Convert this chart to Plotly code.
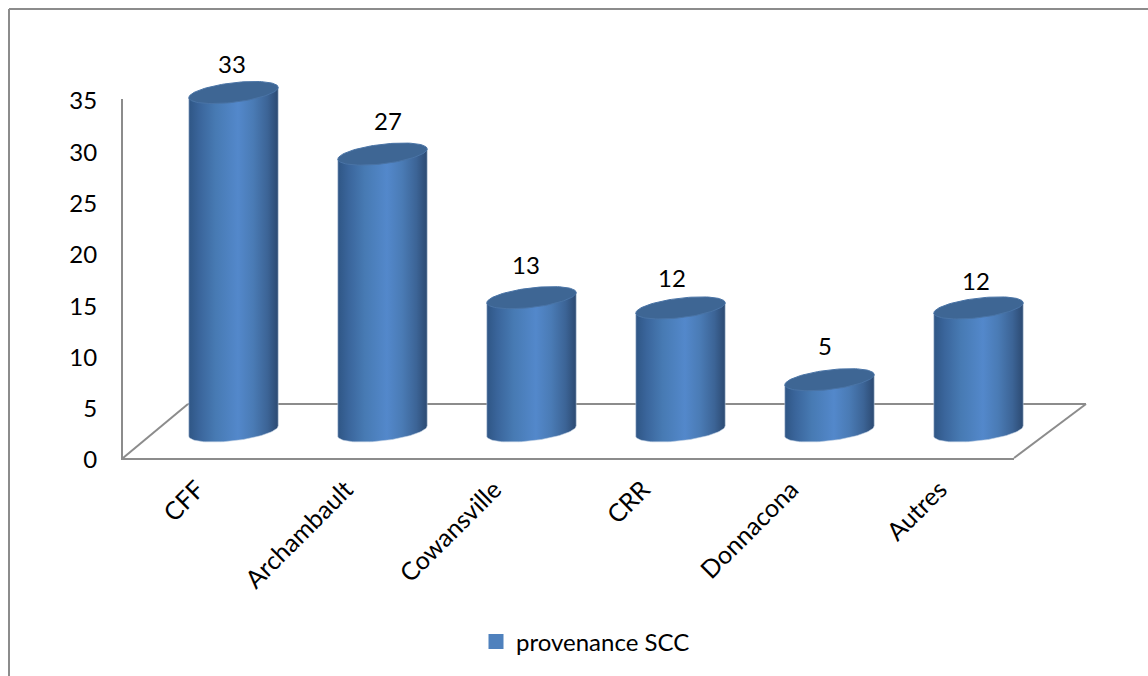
import numpy as np
import plotly.graph_objects as go

categories = ["CFF", "Archambault", "Cowansville", "CRR", "Donnacona", "Autres"]
values = [33, 27, 13, 12, 5, 12]
y_ticks = [0, 5, 10, 15, 20, 25, 30, 35]
series_name = "provenance SCC"

W, H = 1148, 676
FONT = "Lato"
TXT = "#000000"
GRID = "#8c8c8c"
LEG = "#4F81BD"
CAP = "#3E6694"
GRAD = [[0, "#2F5685"], [0.12, "#3A659B"], [0.3, "#477AB3"], [0.55, "#5388CB"],
        [0.72, "#4A7BB5"], [0.88, "#3C6496"], [1, "#2C4A72"]]

px = lambda v: v / W
py = lambda v: 1 - v / H

X0, X1, Y0, Y1 = 123, 1014, 458, 99
BAR_X0, BAR_X1 = 159, 1053
DY = 27
UNIT = (Y0 - Y1) / 35
BELOW = 2
A, B, S = 0.30, 0.955, 0.5
t_low = np.linspace(0, np.pi, 50)
t_all = np.linspace(0, 2 * np.pi, 100)

fig = go.Figure()
for i, v in enumerate(values):
    xb = i + A * np.cos(t_low)
    yb = -B * np.sin(t_low) + S * np.cos(t_low)
    xs = np.concatenate([xb, [i - A, i + A, i + A]])
    ys = np.concatenate([yb, [v - S, v + S, S]])
    fig.add_trace(go.Scatter(x=xs, y=ys, xaxis="x2", yaxis="y2", mode="lines",
                             line=dict(color="rgba(190,205,225,0.55)", width=1),
                             fill="toself",
                             fillgradient=dict(type="horizontal", colorscale=GRAD),
                             hoverinfo="skip", showlegend=False))
    fig.add_trace(go.Scatter(x=i + A * np.cos(t_all),
                             y=v + B * np.sin(t_all) + S * np.cos(t_all),
                             xaxis="x2", yaxis="y2", mode="lines",
                             line=dict(color="#4A74A6", width=1),
                             fill="toself", fillcolor=CAP,
                             hoverinfo="skip", showlegend=False))

fig.add_trace(go.Scatter(x=categories, y=[None] * len(categories), mode="markers",
                         name=series_name,
                         marker=dict(symbol="square", size=15, color=LEG)))

label_dx = [-1.5, 5.5, -5.5, -8.5, -4.5, -2.5]
label_dy = [29, 34, 33, 30, 34, 27]
annotations = [dict(x=i, y=v, xref="x2", yref="y2", text=str(v), showarrow=False,
                    xshift=label_dx[i], yshift=label_dy[i],
                    font=dict(family=FONT, size=24, color=TXT))
               for i, v in enumerate(values)]


def line(x0, y0, x1, y1):
    return dict(type="line", xref="paper", yref="paper", layer="below",
                x0=px(x0), y0=py(y0), x1=px(x1), y1=py(y1),
                line=dict(color=GRID, width=2))


shapes = [
    line(9, 9, W, 9), line(9, 9, 9, H),
    line(X0, Y0, 188, 404), line(188, 404, 1086, 404), line(1086, 404, X1, Y0),
]

fig.update_layout(
    width=W, height=H, autosize=False,
    margin=dict(l=0, r=0, t=0, b=0, pad=0, autoexpand=False),
    paper_bgcolor="white", plot_bgcolor="rgba(0,0,0,0)",
    font=dict(family=FONT, size=24, color=TXT),
    shapes=shapes, annotations=annotations,
    showlegend=True,
    legend=dict(x=px(476), y=py(642), xanchor="left", yanchor="middle",
                bgcolor="rgba(0,0,0,0)", font=dict(family=FONT, size=24, color=TXT)),
    xaxis=dict(domain=[px(X0), px(X1)], type="category", categoryorder="array",
               categoryarray=categories, range=[-0.5, 5.5],
               tickmode="array", tickvals=categories, ticktext=categories,
               tickangle=-45, ticks="", showgrid=False, zeroline=False,
               showline=True, linecolor=GRID, linewidth=2, anchor="y",
               ticklabelstandoff=5,
               tickfont=dict(family=FONT, size=25, color=TXT)),
    yaxis=dict(domain=[py(Y0), py(Y1)], range=[0, 35], tickmode="array",
               tickvals=y_ticks, ticks="", showgrid=False, zeroline=False,
               showline=True, linecolor=GRID, linewidth=2, anchor="x",
               ticklabelstandoff=19, ticklabelshift=2,
               tickfont=dict(family=FONT, size=24, color=TXT)),
    xaxis2=dict(domain=[px(BAR_X0), px(BAR_X1)], range=[-0.5, 5.5], visible=False,
                anchor="y2", fixedrange=True),
    yaxis2=dict(domain=[py(Y0 - DY + BELOW * UNIT), py(Y1 - DY)], range=[-BELOW, 35],
                visible=False, anchor="x2", fixedrange=True),
)

fig.write_html("out.html", config=dict(displayModeBar=False),
               post_script="document.body.style.margin='0';document.body.style.overflow='hidden';")
